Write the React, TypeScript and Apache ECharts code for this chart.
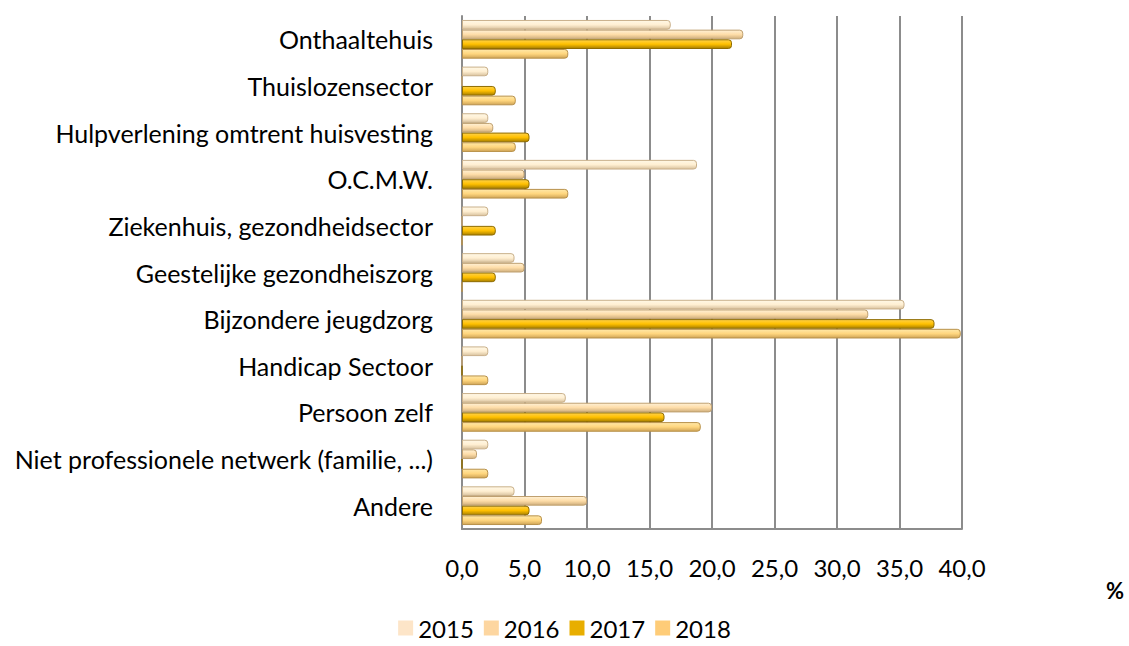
import React, { useEffect, useRef } from "react";
import * as echarts from "echarts";

const categories = [
  "Onthaaltehuis",
  "Thuislozensector",
  "Hulpverlening omtrent huisvesting",
  "O.C.M.W.",
  "Ziekenhuis, gezondheidsector",
  "Geestelijke gezondheiszorg",
  "Bijzondere jeugdzorg",
  "Handicap Sectoor",
  "Persoon zelf",
  "Niet professionele netwerk (familie, ...)",
  "Andere",
];

const years = ["2015", "2016", "2017", "2018"];

const values2015 = [16.7, 2.1, 2.1, 18.8, 2.1, 4.2, 35.4, 2.1, 8.3, 2.1, 4.2];
const values2016 = [22.5, 0, 2.5, 5.0, 0, 5.0, 32.5, 0, 20.0, 1.2, 10.0];
const values2017 = [21.6, 2.7, 5.4, 5.4, 2.7, 2.7, 37.8, 0, 16.2, 0, 5.4];
const values2018 = [8.5, 4.3, 4.3, 8.5, 0, 0, 39.9, 2.1, 19.1, 2.1, 6.4];

const xTicks = [0, 5, 10, 15, 20, 25, 30, 35, 40];

const seriesValues = [values2015, values2016, values2017, values2018];

const palette = [
  { top: "#FFF8E6", mid: "#FFEFD2", bottom: "#D9C29E", border: "#C9B08A", legend: "#FDE5C8" },
  { top: "#FFF0D4", mid: "#FEDDA8", bottom: "#CFAE7C", border: "#BFA070", legend: "#FDD6A0" },
  { top: "#FFD24A", mid: "#FFC000", bottom: "#A87F00", border: "#8F6C00", legend: "#E8AE00" },
  { top: "#FFE8A8", mid: "#FFD67E", bottom: "#CFA457", border: "#B8914A", legend: "#FECC78" },
];

export default function App() {
  const ref = useRef<HTMLDivElement>(null);

  useEffect(() => {
    document.body.style.margin = "0";
    if (!ref.current) return;
    const chart = echarts.init(ref.current, undefined, { renderer: "svg" });
    const font = "Lato, 'Open Sans', sans-serif";

    const series = years.map((y, i) => ({
      name: y,
      type: "bar",
      data: seriesValues[i],
      barGap: "0%",
      barCategoryGap: "17%",
      itemStyle: {
        color: new echarts.graphic.LinearGradient(0, 0, 0, 1, [
          { offset: 0, color: palette[i].top },
          { offset: 0.5, color: palette[i].mid },
          { offset: 1, color: palette[i].bottom },
        ]),
        borderColor: palette[i].border,
        borderWidth: 1,
        borderRadius: [0, 3, 3, 0],
      },
      emphasis: { disabled: true },
    }));

    chart.setOption({
      animation: false,
      color: palette.map((p) => p.legend),
      textStyle: { fontFamily: font },
      grid: { left: 462, right: 167, top: 16, bottom: 117, containLabel: false },
      legend: {
        data: years.map((y, i) => ({ name: y, itemStyle: { color: palette[i].legend, borderWidth: 0 } })),
        top: 616,
        left: "center",
        padding: 0,
        icon: "rect",
        itemWidth: 15,
        itemHeight: 15,
        itemGap: 10,
        textStyle: { fontSize: 24, color: "#000", fontFamily: font },
      },
      xAxis: {
        type: "value",
        min: 0,
        max: 40,
        interval: 5,
        axisLine: { show: true, lineStyle: { color: "#8c8c8c", width: 2 } },
        axisTick: { show: false },
        splitLine: { show: true, lineStyle: { color: "#8c8c8c", width: 2 } },
        axisLabel: {
          margin: 26,
          fontSize: 24,
          color: "#000",
          fontFamily: font,
          formatter: (v: number) => (xTicks.includes(v) ? v.toFixed(1).replace(".", ",") : ""),
        },
      },
      yAxis: {
        type: "category",
        data: categories,
        inverse: true,
        axisLine: { show: true, lineStyle: { color: "#8c8c8c", width: 2 } },
        axisTick: { show: false },
        axisLabel: {
          margin: 29,
          fontSize: 25,
          color: "#000",
          fontFamily: font,
          padding: [10, 0, 0, 0],
        },
      },
      graphic: [
        {
          type: "text",
          left: 1106,
          top: 579,
          style: { text: "%", font: `bold 22px ${font}`, fill: "#000" },
        },
      ],
      series,
    });

    return () => chart.dispose();
  }, []);

  return <div ref={ref} style={{ width: 1129, height: 646 }} />;
}
